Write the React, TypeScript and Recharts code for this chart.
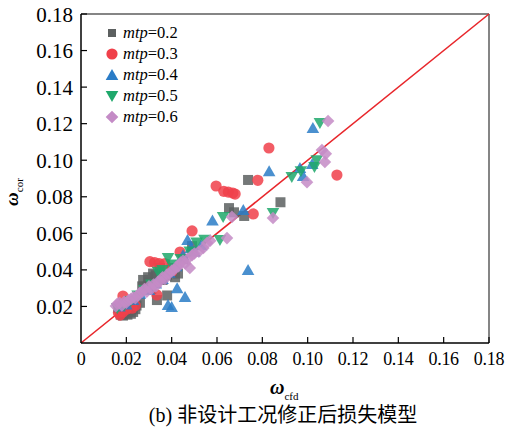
import React from 'react';
import { ScatterChart, Scatter, XAxis, YAxis, ReferenceLine } from 'recharts';

type P = { x: number; y: number };
const toPts = (a: number[][]): P[] => a.map(([x, y]) => ({ x, y }));

const mtp02 = toPts([
  [0.0165, 0.019], [0.0175, 0.0155], [0.0185, 0.015], [0.019, 0.0165], [0.0205, 0.0155], [0.021, 0.0175],
  [0.022, 0.016], [0.023, 0.017], [0.024, 0.0185], [0.0245, 0.0205], [0.026, 0.022],
  [0.0274, 0.0345], [0.0296, 0.036], [0.0318, 0.038], [0.0349, 0.041], [0.036, 0.0345], [0.038, 0.037],
  [0.0415, 0.036], [0.0428, 0.038], [0.0335, 0.0235], [0.038, 0.026], [0.031, 0.0295], [0.027, 0.031],
  [0.03, 0.033], [0.033, 0.037], [0.04, 0.041], [0.045, 0.046],
  [0.049, 0.053], [0.0653, 0.0738], [0.0675, 0.0715], [0.072, 0.0695], [0.0737, 0.0892], [0.088, 0.077],
]);
const mtp03 = toPts([
  [0.0165, 0.0165], [0.0172, 0.0153], [0.018, 0.018], [0.0185, 0.0257], [0.0185, 0.017], [0.02, 0.0185],
  [0.0225, 0.019], [0.024, 0.0205], [0.0304, 0.0445], [0.0325, 0.044], [0.0345, 0.0435], [0.037, 0.0435],
  [0.0335, 0.0263], [0.04, 0.039], [0.0437, 0.0498], [0.049, 0.0613], [0.0596, 0.0859], [0.063, 0.083],
  [0.065, 0.0826], [0.067, 0.082], [0.068, 0.0815], [0.076, 0.0706], [0.078, 0.089], [0.0829, 0.1067],
  [0.1129, 0.0919],
]);
const mtp04 = toPts([
  [0.017, 0.02], [0.02, 0.021], [0.023, 0.0235], [0.026, 0.027], [0.03, 0.029], [0.033, 0.0325],
  [0.036, 0.035], [0.039, 0.0385], [0.042, 0.042], [0.045, 0.048], [0.047, 0.0563], [0.0485, 0.052],
  [0.05, 0.05], [0.053, 0.0535], [0.0424, 0.03], [0.0459, 0.0252], [0.0384, 0.0208], [0.04, 0.0197],
  [0.0737, 0.04], [0.058, 0.067], [0.0716, 0.0728], [0.083, 0.094], [0.0966, 0.0957], [0.098, 0.0914],
  [0.102, 0.098], [0.1023, 0.1176],
]);
const mtp05 = toPts([
  [0.016, 0.019], [0.019, 0.0205], [0.022, 0.023], [0.025, 0.026], [0.028, 0.029], [0.031, 0.032],
  [0.034, 0.039], [0.036, 0.04], [0.0384, 0.0465], [0.04, 0.043], [0.044, 0.046], [0.048, 0.05], [0.051, 0.055],
  [0.0545, 0.0565], [0.0613, 0.0563], [0.0627, 0.069], [0.0847, 0.0711], [0.093, 0.0908], [0.097, 0.094],
  [0.103, 0.0963], [0.104, 0.1], [0.1054, 0.1203],
]);
const mtp06 = toPts([
  [0.0154, 0.0202], [0.016, 0.0215], [0.017, 0.022], [0.018, 0.0205], [0.019, 0.0225], [0.02, 0.022],
  [0.021, 0.0235], [0.022, 0.024], [0.023, 0.025], [0.024, 0.0245], [0.025, 0.026], [0.026, 0.0275],
  [0.027, 0.028], [0.028, 0.0295], [0.029, 0.028], [0.03, 0.031], [0.031, 0.0295], [0.032, 0.032],
  [0.033, 0.031], [0.034, 0.0335], [0.035, 0.034], [0.036, 0.036], [0.037, 0.035], [0.038, 0.0375],
  [0.039, 0.038], [0.04, 0.0395], [0.041, 0.04], [0.042, 0.0415], [0.043, 0.042], [0.044, 0.044],
  [0.045, 0.045], [0.046, 0.0435], [0.047, 0.046], [0.048, 0.041], [0.049, 0.048], [0.05, 0.049],
  [0.052, 0.05], [0.054, 0.052], [0.0556, 0.0547], [0.057, 0.056], [0.0644, 0.0574], [0.0666, 0.069],
  [0.0847, 0.0684], [0.0997, 0.088], [0.1063, 0.1056], [0.108, 0.1035], [0.1076, 0.099], [0.109, 0.1215],
]);

const xTicks = [0, 0.02, 0.04, 0.06, 0.08, 0.1, 0.12, 0.14, 0.16, 0.18];
const yTicks = [0.02, 0.04, 0.06, 0.08, 0.1, 0.12, 0.14, 0.16, 0.18];
const legendLabels = ['0.2', '0.3', '0.4', '0.5', '0.6'];
const titleText = '(b) 非设计工况修正后损失模型';

type Kind = 'square' | 'circle' | 'up' | 'down' | 'diamond';
const series: { name: string; data: P[]; color: string; kind: Kind }[] = [
  { name: legendLabels[0], data: mtp02, color: '#5c6060', kind: 'square' },
  { name: legendLabels[1], data: mtp03, color: '#f0404a', kind: 'circle' },
  { name: legendLabels[2], data: mtp04, color: '#2a7cc7', kind: 'up' },
  { name: legendLabels[3], data: mtp05, color: '#1fa86b', kind: 'down' },
  { name: legendLabels[4], data: mtp06, color: '#c48bc6', kind: 'diamond' },
];

const SERIF = "'Liberation Serif', 'Times New Roman', serif";
const fmt = (v: number) => (v === 0 ? '0' : v.toFixed(2));

function markerEl(kind: Kind, cx: number, cy: number, color: string, s: number, op: number) {
  switch (kind) {
    case 'square':
      return <rect x={cx - 5 * s} y={cy - 5 * s} width={10 * s} height={10 * s} fill={color} fillOpacity={op} />;
    case 'circle':
      return <circle cx={cx} cy={cy} r={5.6 * s} fill={color} fillOpacity={op} />;
    case 'up':
      return <polygon points={`${cx},${cy - 6 * s} ${cx + 6.3 * s},${cy + 5 * s} ${cx - 6.3 * s},${cy + 5 * s}`} fill={color} fillOpacity={op} />;
    case 'down':
      return <polygon points={`${cx - 6.3 * s},${cy - 5 * s} ${cx + 6.3 * s},${cy - 5 * s} ${cx},${cy + 6 * s}`} fill={color} fillOpacity={op} />;
    case 'diamond':
      return <polygon points={`${cx},${cy - 6.3 * s} ${cx + 6.3 * s},${cy} ${cx},${cy + 6.3 * s} ${cx - 6.3 * s},${cy}`} fill={color} fillOpacity={op} />;
  }
}

const YTick = (props: any) => {
  const { x, y, payload } = props;
  const ax = x + 8;
  return (
    <g>
      <line x1={ax} x2={ax + 6} y1={y} y2={y} stroke="#000" strokeWidth={1.2} />
      <text x={x} y={y} dy="0.36em" textAnchor="end" fontFamily={SERIF} fontSize={21} fill="#000">
        {fmt(payload.value)}
      </text>
    </g>
  );
};

const XTick = (props: any) => {
  const { x, y, payload } = props;
  const ay = y - 9;
  return (
    <g>
      {payload.value !== 0 && <line x1={x} x2={x} y1={ay} y2={ay - 6} stroke="#000" strokeWidth={1.2} />}
      <text x={x} y={y} dy="0.7em" textAnchor="middle" fontFamily={SERIF} fontSize={18} fill="#000" letterSpacing={-0.3}>
        {fmt(payload.value)}
      </text>
    </g>
  );
};

export default function App() {
  return (
    <div style={{ position: 'absolute', left: 0, top: 0, width: 505, height: 428, background: '#fff' }}>
      <ScatterChart width={505} height={428} margin={{ top: 14, right: 16, bottom: 40, left: 21 }}>
        <XAxis
          type="number"
          dataKey="x"
          domain={[0, 0.18]}
          ticks={xTicks}
          interval={0}
          height={45}
          tickSize={0}
          tickMargin={9}
          tickLine={false}
          axisLine={{ stroke: '#000', strokeWidth: 1.5 }}
          tick={<XTick />}
          label={{
            content: () => (
              <text x={270} y={394} fontFamily={SERIF} fill="#000">
                <tspan fontSize={20} fontWeight="bold" fontStyle="italic">ω</tspan>
                <tspan fontSize={11} dy={6}>cfd</tspan>
              </text>
            ),
          }}
        />
        <YAxis
          type="number"
          dataKey="y"
          domain={[0, 0.18]}
          ticks={yTicks}
          interval={0}
          width={60}
          tickSize={0}
          tickMargin={8}
          tickLine={false}
          axisLine={{ stroke: '#000', strokeWidth: 1.5 }}
          tick={<YTick />}
          label={{
            content: () => (
              <text x={18} y={206} transform="rotate(-90, 18, 206)" fontFamily={SERIF} fill="#000">
                <tspan fontSize={19} fontWeight="bold" fontStyle="italic">ω</tspan>
                <tspan fontSize={11} dy={5}>cor</tspan>
              </text>
            ),
          }}
        />
        <ReferenceLine y={0.18} stroke="#858585" strokeWidth={2} />
        <ReferenceLine x={0.18} stroke="#858585" strokeWidth={2} />
        {series.map((s) => (
          <Scatter
            key={s.name}
            name={`mtp=${s.name}`}
            data={s.data}
            isAnimationActive={false}
            shape={(p: any) => markerEl(s.kind, p.cx, p.cy, s.color, 1, 0.85)}
          />
        ))}
        <ReferenceLine
          segment={[{ x: 0, y: 0 }, { x: 0.18, y: 0.18 }]}
          stroke="#e8262b"
          strokeWidth={1.6}
        />
      </ScatterChart>
      <div style={{ position: 'absolute', left: 104, top: 22 }}>
        {series.map((s) => (
          <div key={s.name} style={{ display: 'flex', alignItems: 'center', height: 21 }}>
            <svg width={16} height={16} style={{ marginRight: 3 }}>
              {markerEl(s.kind, 8, 8, s.color, s.kind === 'square' ? 0.8 : 1, 1)}
            </svg>
            <span style={{ fontFamily: SERIF, fontSize: 16.5, color: '#000', lineHeight: '21px' }}>
              <i>mtp</i>=0.{s.name.slice(2)}
            </span>
          </div>
        ))}
      </div>
      <div
        style={{
          position: 'absolute',
          left: 0,
          width: 566,
          top: 403,
          textAlign: 'center',
          fontFamily: "'Liberation Serif', 'Noto Sans CJK SC', serif",
          fontSize: 20,
          color: '#000',
          lineHeight: '24px',
        }}
      >
        {titleText}
      </div>
    </div>
  );
}
